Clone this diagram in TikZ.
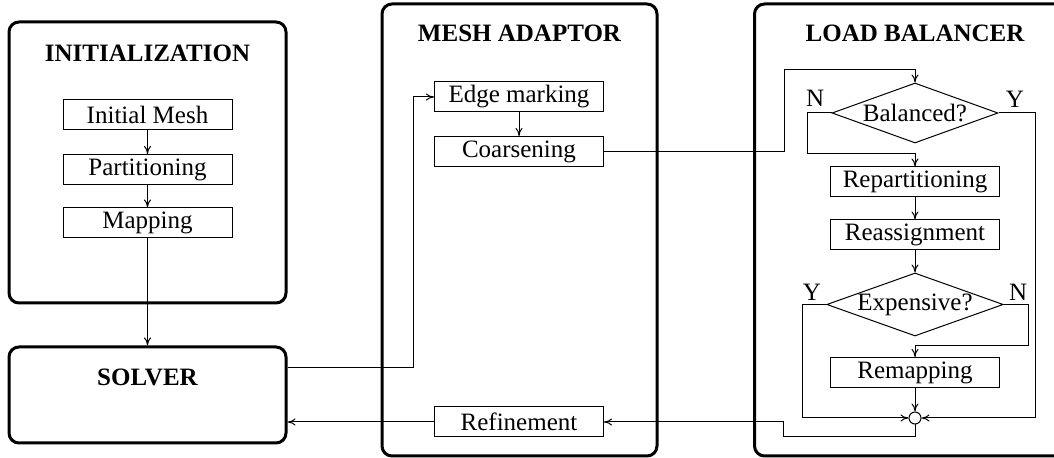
\documentclass[tikz,border=0pt]{standalone}
\usepackage{fontspec}
\setmainfont{Liberation Serif}
\usetikzlibrary{shapes.geometric,arrows.meta}

\begin{document}
\begin{tikzpicture}[x=0.5pt,y=-0.5pt,
    >={To[length=4pt,width=3.5pt]},
    every node/.style={font=\fontsize{12.5}{14}\selectfont},
    module/.style={draw,line width=1.5pt,rounded corners=5pt,inner sep=0pt},
    heading/.style={font=\fontsize{12.5}{14}\selectfont\bfseries},
    task/.style={draw,line width=0.5pt,minimum width=84.5pt,minimum height=15pt,inner sep=0pt},
    decision/.style={draw,diamond,aspect=2.8,line width=0.5pt,minimum width=83pt,minimum height=30pt,inner sep=0pt},
    flow/.style={line width=0.5pt}]
  \useasboundingbox (0,0) rectangle (1054,458);

  % Module frames
  \node[module,minimum width=138.5pt,minimum height=140.5pt] (init) at (147.5,162.5) {};
  \node[module,minimum width=138.5pt,minimum height=48pt] (solver) at (147.5,395) {};
  \node[module,minimum width=137.5pt,minimum height=226pt] (adaptor) at (519.5,230) {};
  \node[module,minimum width=165pt,minimum height=226pt,anchor=west] (balancer) at (753,230) {};
  \node[heading] (initT) at (147.5,53) {INITIALIZATION};
  \node[heading] (solverT) at (147.5,377) {SOLVER};
  \node[heading] (adaptorT) at (519.5,33) {MESH ADAPTOR};
  \node[heading] (balancerT) at (915,33) {LOAD BALANCER};

  % Initialization
  \node[task] (inimesh) at (147.5,115) {Initial Mesh};
  \node[task] (partit) at (147.5,169.5) {Partitioning};
  \node[task] (mapping) at (147.5,223) {Mapping};
  \draw[flow,->] (inimesh) -- (partit);
  \draw[flow,->] (partit) -- (mapping);
  \draw[flow,->] (mapping) -- (solver);

  % Mesh adaptor
  \node[task] (edgemark) at (519,97) {Edge marking};
  \node[task] (coarsen) at (519,151.5) {Coarsening};
  \node[task] (refine) at (519,422) {Refinement};
  \draw[flow,->] ([yshift=13.5pt]solver.east) -- ++(126,0) |- (edgemark.west);
  \draw[flow,->] (edgemark) -- (coarsen);

  % Load balancer
  \node[decision] (balanced) at (915,113) {Balanced?};
  \node[task] (repart) at (915,182) {Repartitioning};
  \node[task] (reassign) at (915,235) {Reassignment};
  \node[decision] (expensive) at (915,304.5) {Expensive?};
  \node[task] (remap) at (915,372.5) {Remapping};
  \node[draw,circle,line width=0.5pt,minimum size=6pt,inner sep=0pt] (join) at (915,418) {};
  \node[anchor=south east,inner sep=0pt] (balN) at ([xshift=-3.5pt,yshift=3pt]balanced.west) {N};
  \node[anchor=south west,inner sep=0pt] (balY) at ([xshift=3.5pt,yshift=2.5pt]balanced.east) {Y};
  \node[anchor=south east,inner sep=0pt] (expY) at ([xshift=-2.5pt,yshift=2pt]expensive.west) {Y};
  \node[anchor=south west,inner sep=0pt] (expN) at ([xshift=2.5pt,yshift=2pt]expensive.east) {N};

  \draw[flow,->] (coarsen.east) -- ++(180,0) |- ([yshift=6.5pt]balanced.north) -- (balanced.north);
  \draw[flow,->] (balanced.west) -- ++(-24,0) |- ([yshift=6.5pt]repart.north) -- (repart.north);
  \draw[flow,->] (repart) -- (reassign);
  \draw[flow,->] (reassign) -- (expensive);
  \draw[flow,->] (expensive.east) -- ++(25,0) |- ([yshift=5.5pt]remap.north) -- (remap.north);
  \draw[flow,->] (remap) -- (join);
  \draw[flow,->] (expensive.west) -- ++(-24,0) |- (join.west);
  \draw[flow,->] (balanced.east) -- ++(37,0) |- (join.east);
  \draw[flow,->] (join.south) |- ++(-132,12.5) |- (refine.east);
  \draw[flow,->] (refine.west) -- (refine.west -| solver.east);
\end{tikzpicture}
\end{document}
